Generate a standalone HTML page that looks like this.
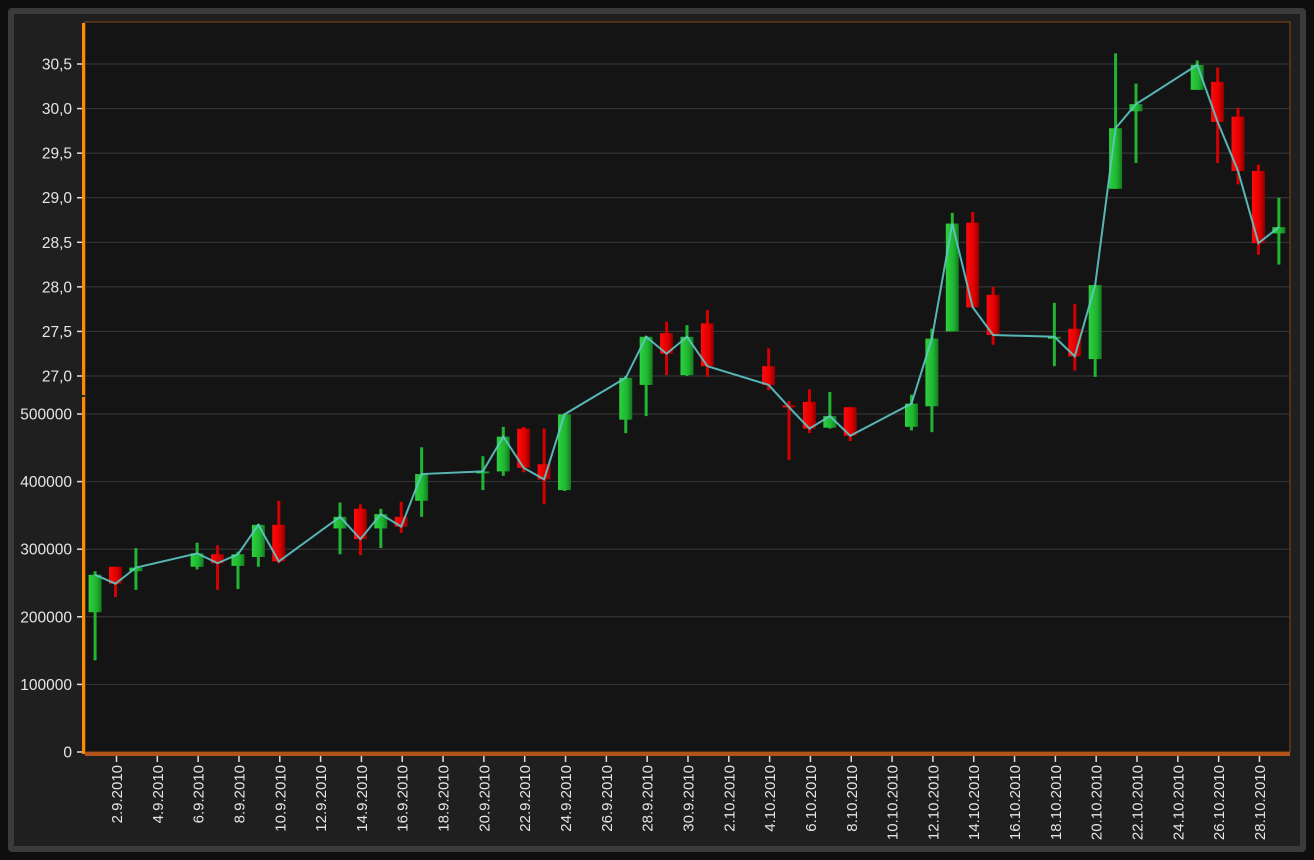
<!DOCTYPE html>
<html><head><meta charset="utf-8"><style>
html,body{margin:0;padding:0;background:#0e0e0e;}
body{width:1314px;height:860px;overflow:hidden;}
#frame{position:absolute;left:0;top:0;width:1314px;height:860px;border-radius:12px;background:#0e0e0e;}
#ring{position:absolute;left:8px;top:8px;width:1298px;height:844px;background:#3b3b3b;border-radius:4px;}
#inner{position:absolute;left:14px;top:14px;width:1286px;height:832px;background:#1f1f1f;}
svg{position:absolute;left:0;top:0;}
text{font-family:"Liberation Sans",sans-serif;font-size:15px;fill:#e6e6e6;}
text.y{font-size:15.5px;}
</style></head><body>
<div id="frame"><div id="ring"></div><div id="inner"></div></div>
<svg id="chart" width="1314" height="860"></svg>
<script>
const dayNums=[1,2,3,6,7,8,9,10,13,14,15,16,17,20,21,22,23,24,27,28,29,30,31,34,35,36,37,38,41,42,43,44,45,48,49,50,51,52,55,56,57,58,59];
const opens=[24.35,24.86,24.81,24.86,25.00,24.87,24.97,25.33,25.29,25.51,25.29,25.42,25.60,25.91,25.93,26.41,26.01,25.72,26.51,26.90,27.48,27.01,27.59,27.11,26.67,26.71,26.42,26.65,26.43,26.66,27.50,28.72,27.91,27.42,27.53,27.19,29.10,29.97,30.21,30.30,29.91,29.30,28.60];
const highs=[24.81,24.86,25.07,25.13,25.10,25.03,25.34,25.60,25.58,25.56,25.51,25.59,26.20,26.10,26.43,26.43,26.41,26.58,27.00,27.45,27.61,27.57,27.74,27.31,26.72,26.85,26.82,26.65,26.79,27.53,28.83,28.84,28.00,27.82,27.81,28.02,30.62,30.28,30.54,30.46,30.01,29.37,29.00];
const lows=[23.81,24.52,24.60,24.83,24.60,24.61,24.86,24.90,25.00,24.99,25.07,25.24,25.42,25.72,25.88,25.92,25.56,25.71,26.36,26.55,27.01,27.00,26.99,26.84,26.06,26.36,26.41,26.27,26.39,26.37,27.50,27.77,27.35,27.11,27.06,26.99,29.10,29.39,30.21,29.39,29.15,28.36,28.25];
const closes=[24.77,24.67,24.85,25.01,24.90,25.00,25.33,24.92,25.42,25.17,25.45,25.31,25.90,25.93,26.32,25.97,25.84,26.57,26.98,27.44,27.25,27.44,27.11,26.90,26.65,26.41,26.55,26.33,26.69,27.42,28.71,27.77,27.46,27.44,27.22,28.02,29.78,30.05,30.49,29.85,29.30,28.49,28.67];
const priceTicks=[27.0,27.5,28.0,28.5,29.0,29.5,30.0,30.5];
const volTicks=[0,100000,200000,300000,400000,500000];
const dateLabelDays=[2,4,6,8,10,12,14,16,18,20,22,24,26,28,30,32,34,36,38,40,42,44,46,48,50,52,54,56,58];

const L=85,R=1290,T=22,B=752;
const xS=d=>116.5+(d-2)*20.41;
const yP=v=>376-(v-27)*89.14;
const yV=v=>752-v/100000*67.6;
const NS='http://www.w3.org/2000/svg';
const svg=document.getElementById('chart');
function mk(tag,at,parent){const e=document.createElementNS(NS,tag);for(const k in at)e.setAttribute(k,at[k]);(parent||svg).appendChild(e);return e;}
function label(d){const dt=new Date(2010,8,d);return dt.getDate()+'.'+(dt.getMonth()+1)+'.2010';}

const defs=mk('defs',{});
const gg=mk('linearGradient',{id:'gG',x1:0,x2:1,y1:0,y2:0},defs);
mk('stop',{offset:'0','stop-color':'#2cd13e'},gg);mk('stop',{offset:'0.6','stop-color':'#1fb531'},gg);mk('stop',{offset:'1','stop-color':'#137a1f'},gg);
const rg=mk('linearGradient',{id:'gR',x1:0,x2:1,y1:0,y2:0},defs);
mk('stop',{offset:'0','stop-color':'#ff0b0b'},rg);mk('stop',{offset:'0.6','stop-color':'#e00000'},rg);mk('stop',{offset:'1','stop-color':'#8a0000'},rg);

let p=mk('rect',{x:L,y:T,width:R-L,height:B-T,fill:'#141414',stroke:'#8a4a14','stroke-width':1});



priceTicks.forEach(v=>{const y=yP(v);
 let g=mk('line',{x1:L,x2:R,y1:y,y2:y,stroke:'#3a3a3a','stroke-width':1});
 
 
 mk('line',{x1:77,x2:83,y1:y,y2:y,stroke:'#ddd','stroke-width':1.5});
 let t=mk('text',{x:72,y:y+5.5,'text-anchor':'end',class:'y'});t.textContent=v.toFixed(1).replace('.',',');
 
 
});
volTicks.forEach(v=>{const y=yV(v);
 if(v>0){let g=mk('line',{x1:L,x2:R,y1:y,y2:y,stroke:'#3a3a3a','stroke-width':1});
 
 }
 mk('line',{x1:77,x2:83,y1:y,y2:y,stroke:'#ddd','stroke-width':1.5});
 let t=mk('text',{x:72,y:y+5.5,'text-anchor':'end',class:'y'});t.textContent=String(v);
 
 
});
let a1=mk('rect',{x:82,y:23,width:3,height:372,fill:'#ff8c00'});


let a2=mk('rect',{x:82,y:397,width:3,height:357,fill:'#ff8c00'});


let a3=mk('rect',{x:85,y:752,width:1205,height:4,fill:'#b0541c'});


dateLabelDays.forEach(d=>{const x=xS(d);
 mk('line',{x1:x,x2:x,y1:756,y2:762,stroke:'#ddd','stroke-width':1.5});
 let t=mk('text',{x:0,y:0,'text-anchor':'end',transform:`translate(${x+5.5},765) rotate(-90)`});t.textContent=label(d);
 
 
});
dayNums.forEach((d,i)=>{const x=xS(d)-1;const up=closes[i]>=opens[i];
 const g=mk('g',{});
 
 
 mk('rect',{x:x-1.5,y:yP(highs[i]),width:3,height:Math.max(1,yP(lows[i])-yP(highs[i])),fill:up?'#22b432':'#d40000'},g);
 const top=yP(Math.max(opens[i],closes[i])),bot=yP(Math.min(opens[i],closes[i]));
 mk('rect',{x:x-6.5,y:top,width:13,height:Math.max(2,bot-top),fill:up?'url(#gG)':'url(#gR)'},g);
});
const pts=dayNums.map((d,i)=>(xS(d)-1)+','+yP(closes[i])).join(' ');
let pl=mk('polyline',{points:pts,fill:'none',stroke:'#5fc6c6','stroke-width':2,'stroke-opacity':0.9});


</script>
</body></html>
